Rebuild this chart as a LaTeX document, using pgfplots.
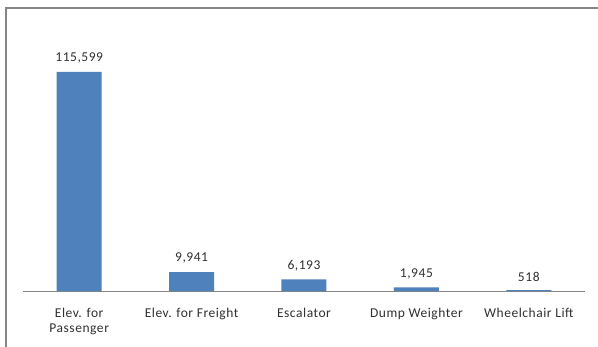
\documentclass[border=0pt]{standalone}
\usepackage{pgfplots}
\pgfplotsset{compat=1.18}
\usepackage{fontspec}
\setmainfont{Carlito}[LetterSpace=4]
\definecolor{barblue}{HTML}{4F81BD}
\definecolor{axgray}{HTML}{868686}
\definecolor{txt}{HTML}{303030}
\begin{document}
\begin{tikzpicture}[x=1pt,y=1pt]
\useasboundingbox (0,0) rectangle (598,346);
\begin{scope}
\clip (0,0) rectangle (598,346);
\draw[axgray, line width=1.2pt] (6,-5) -- (6,338) -- (605,338);
\end{scope}
\begin{axis}[
  at={(23pt,55pt)}, anchor=south west,
  scale only axis, width=562pt, height=246.3pt,
  xmin=-0.5, xmax=4.5, ymin=0, ymax=130000,
  enlargelimits=false,
  hide y axis,
  axis x line*=bottom,
  x axis line style={axgray, line width=0.8pt},
  xtick=data, major tick length=0pt,
  xticklabels={{Elev. for\\Passenger},{Elev. for Freight},{Escalator},{Dump Weighter},{Wheelchair Lift}},
  xticklabel style={align=center, font=\fontsize{13.5}{14.5}\selectfont, text=txt, anchor=north, yshift=-14pt},
  ybar, bar width=45pt,
  point meta=explicit symbolic,
  nodes near coords,
  nodes near coords style={font=\fontsize{13.5}{15}\selectfont, text=txt, yshift=5pt},
  clip=false,
]
\addplot[fill=barblue, draw=none] coordinates {(0,115599) [115,599] (1,9941) [9,941] (2,6193) [6,193] (3,1945) [1,945] (4,518) [518]};
\end{axis}
\end{tikzpicture}
\end{document}
